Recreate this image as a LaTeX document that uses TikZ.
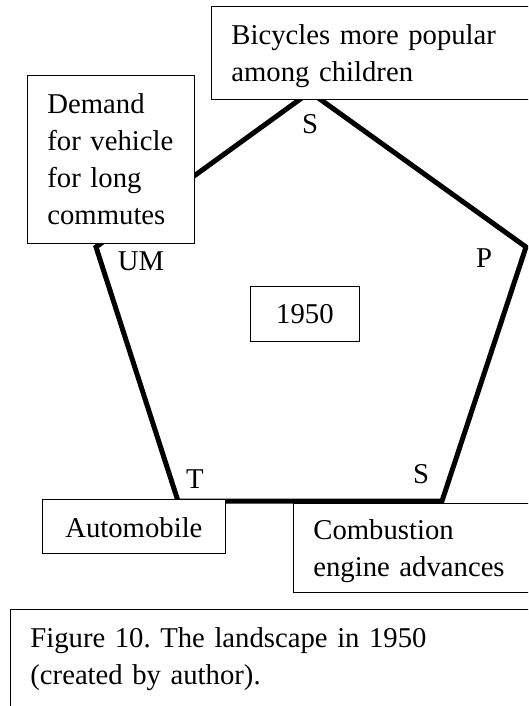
\documentclass[tikz,border=0pt]{standalone}
\usepackage{fontspec}
\setmainfont{Liberation Serif}
\usepackage{tikz}
\usetikzlibrary{positioning}
\frenchspacing

\begin{document}
\begin{tikzpicture}[x=1pt, y=1pt,
    font=\fontsize{28.7}{37}\selectfont,
    box/.style={draw, line width=0.8pt, fill=white, anchor=north west,
      inner xsep=20pt, inner ysep=0pt, align=left, text height=38pt,
      execute at begin node={\hyphenpenalty=10000}},
    edge/.style={line width=5pt, line join=miter},
    lab/.style={anchor=base, inner sep=0pt}]
  % Page frame
  \useasboundingbox (0,0) rectangle (528,-706);
  \clip (0,0) rectangle (528,-706);
  % Corners of the pentagon
  \coordinate (apex) at (310,-92);
  \coordinate (west) at (96,-247);
  \coordinate (southwest) at (178,-501);
  \coordinate (southeast) at (442,-501);
  \coordinate (east) at (526,-247);
  % Pentagon
  \draw[edge] (apex) -- (west) -- (southwest) -- (southeast) -- (east) -- cycle;
  % Boxes on the corners
  \node[box, text width=289pt, text depth=55pt] (bikes) at (211,-6)
    {Bicycles more popular\\among children};
  \node[box, text width=127pt, text depth=130pt] (demand) at (27,-75)
    {Demand\\for vehicle\\for long\\commutes};
  \node[box, text width=143pt, text depth=16pt, align=center] (auto) at (42,-499)
    {Automobile};
  \node[box, text width=207pt, text height=36pt, text depth=53pt] (engine) at (293,-503)
    {Combustion\\engine advances};
  \node[box, text width=69pt, text height=37pt, text depth=18pt, align=center] (year) at (250,-286)
    {1950};
  % Corner labels
  \node[lab] (sTop) at (310,-133) {S};
  \node[lab] (um) at (141,-270) {UM};
  \node[lab] (p) at (484,-267) {P};
  \node[lab] (t) at (195,-488) {T};
  \node[lab] (sBottom) at (421,-483) {S};
  % Caption
  \node[box, text width=490pt, text depth=82pt] (caption) at (10,-609)
    {Figure 10. The landscape in 1950\\(created by author).};
\end{tikzpicture}
\end{document}
